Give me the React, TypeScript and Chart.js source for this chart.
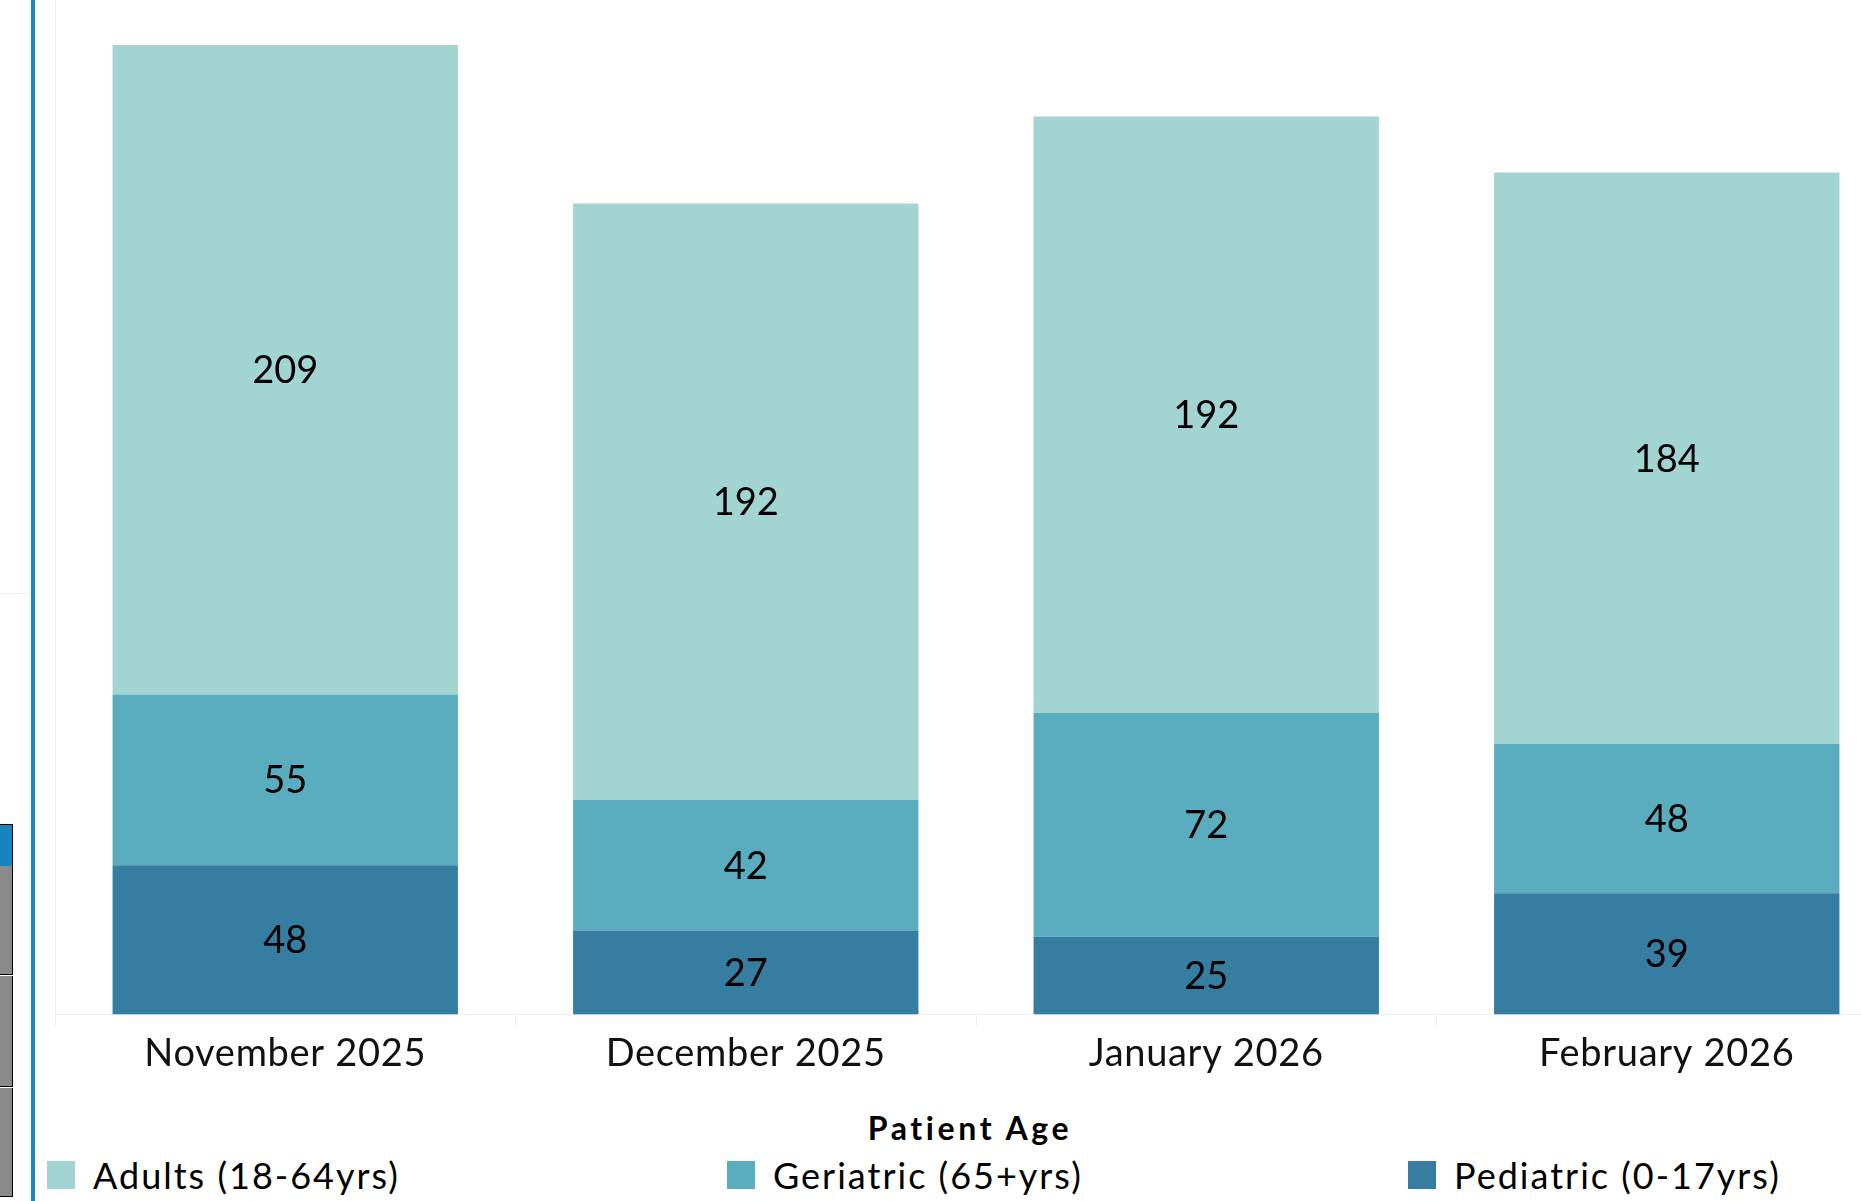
import React, { useEffect, useRef } from "react";
import { Chart, registerables } from "chart.js";

Chart.register(...registerables);

const categories = ["November 2025", "December 2025", "January 2026", "February 2026"];
const seriesNames = ["Adults (18-64yrs)", "Geriatric (65+yrs)", "Pediatric (0-17yrs)"];
const adults = [209, 192, 192, 184];
const geriatric = [55, 42, 72, 48];
const pediatric = [48, 27, 25, 39];
const seriesColors = ["#a2d5d2", "#5aacbf", "#357ea1"];
const legendTitle = "Patient Age";

const FONT = "Lato, 'Noto Sans', sans-serif";

const spacingPlugin = {
  id: "spacing",
  beforeDraw(chart: any) {
    try {
      chart.ctx.letterSpacing = "0.7px";
    } catch (e) {}
  },
};

const labelPlugin = {
  id: "segLabels",
  afterDatasetsDraw(chart: any) {
    const ctx = chart.ctx;
    ctx.save();
    try {
      ctx.letterSpacing = "0px";
    } catch (e) {}
    ctx.font = `38px ${FONT}`;
    ctx.fillStyle = "#000";
    ctx.textAlign = "center";
    ctx.textBaseline = "middle";
    chart.data.datasets.forEach((ds: any, di: number) => {
      const meta = chart.getDatasetMeta(di);
      meta.data.forEach((el: any, i: number) => {
        const p = el.getProps(["x", "y", "base"], true);
        ctx.fillText(String(ds.data[i]), p.x, (p.y + p.base) / 2 + 1);
      });
    });
    ctx.restore();
  },
};

export default function App() {
  const ref = useRef<HTMLCanvasElement | null>(null);
  useEffect(() => {
    let chart: any = null;
    let dead = false;
    const make = () => {
      if (dead || !ref.current) return;
      chart = new Chart(ref.current, {
        type: "bar",
        data: {
          labels: categories,
          datasets: [
            { label: seriesNames[2], data: pediatric, backgroundColor: seriesColors[2] },
            { label: seriesNames[1], data: geriatric, backgroundColor: seriesColors[1] },
            { label: seriesNames[0], data: adults, backgroundColor: seriesColors[0] },
          ].map((d) => ({ ...d, barPercentage: 1, categoryPercentage: 0.75, borderWidth: 0 })),
        },
        options: {
          responsive: false,
          animation: false,
          layout: { padding: { left: 55, right: 3, top: 0, bottom: 0 } },
          plugins: { legend: { display: false }, tooltip: { enabled: false } },
          scales: {
            x: {
              stacked: true,
              offset: true,
              grid: {
                display: true,
                drawOnChartArea: false,
                drawTicks: true,
                tickLength: 11,
                color: "#eeeeee",
                offset: true,
              },
              border: { display: true, color: "#eeeeee" },
              ticks: {
                font: { family: FONT, size: 38 },
                color: "#111",
                padding: 6,
                maxRotation: 0,
                autoSkip: false,
              },
            },
            y: {
              stacked: true,
              min: 0,
              max: 326.5,
              grid: { display: false, drawTicks: false },
              border: { display: true, color: "#eeeeee" },
              ticks: { display: false },
            },
          },
        },
        plugins: [spacingPlugin, labelPlugin],
      });
    };
    const f: any = (document as any).fonts;
    if (f && f.load) {
      Promise.all([f.load(`38px Lato`), f.load(`bold 32px Lato`)]).then(make, make);
    } else make();
    return () => {
      dead = true;
      if (chart) chart.destroy();
    };
  }, []);

  const legendX = [47, 727, 1408];
  return (
    <div
      style={{
        position: "fixed",
        left: 0,
        top: 0,
        width: 1861,
        height: 1201,
        overflow: "hidden",
        background: "#fff",
        fontFamily: FONT,
      }}
    >
      {/* remnants of neighbouring dashboard panel */}
      <div style={{ position: "absolute", left: 0, top: 593, width: 30, height: 1, background: "#f0f0f0" }} />
      <div style={{ position: "absolute", left: 0, top: 824, width: 12, height: 41, background: "#1585be", border: "1px solid #000", borderLeft: "none", boxSizing: "content-box" }} />
      <div style={{ position: "absolute", left: 0, top: 866, width: 12, height: 108, background: "#8a8a8a", borderRight: "1px solid #000", borderBottom: "1px solid #000" }} />
      <div style={{ position: "absolute", left: 0, top: 976, width: 12, height: 110, background: "#8a8a8a", borderRight: "1px solid #000", borderBottom: "1px solid #000" }} />
      <div style={{ position: "absolute", left: 0, top: 1088, width: 12, height: 108, background: "#8a8a8a", borderRight: "1px solid #000", borderBottom: "1px solid #000" }} />
      <div style={{ position: "absolute", left: 31, top: 0, width: 4, height: 1201, background: "#1a86bf" }} />

      <canvas
        ref={ref}
        width={1900}
        height={1083}
        style={{ position: "absolute", left: 0, top: 0, width: 1900, height: 1083 }}
      />

      <div
        style={{
          position: "absolute",
          left: 770,
          width: 400,
          top: 1112,
          textAlign: "center",
          fontWeight: "bold",
          fontSize: 32,
          lineHeight: "32px",
          letterSpacing: "3.6px",
          color: "#000",
          whiteSpace: "nowrap",
        }}
      >
        {legendTitle}
      </div>
      {seriesNames.map((n, i) => (
        <div key={n}>
          <div
            style={{
              position: "absolute",
              left: legendX[i],
              top: 1161,
              width: 28,
              height: 28,
              background: seriesColors[i],
            }}
          />
          <div
            style={{
              position: "absolute",
              left: legendX[i] + 46,
              top: 1157,
              fontSize: 36,
              lineHeight: "36px",
              letterSpacing: "2px",
              color: "#000",
              whiteSpace: "nowrap",
            }}
          >
            {n}
          </div>
        </div>
      ))}
    </div>
  );
}
